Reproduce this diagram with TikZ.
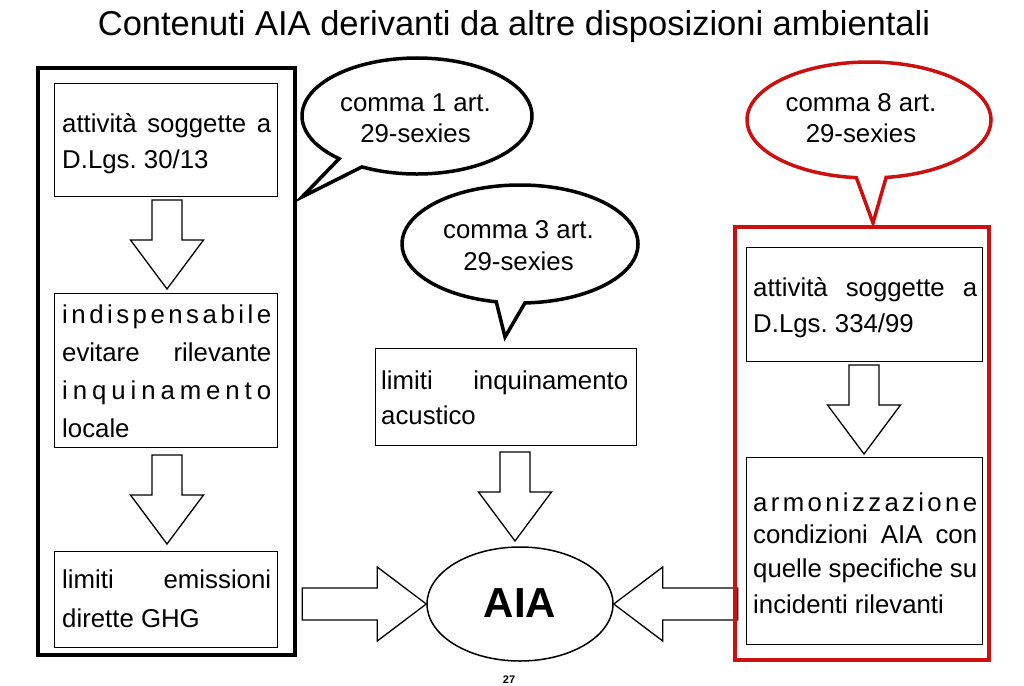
\documentclass[tikz,border=0pt]{standalone}
\usepackage{fontspec}
\setmainfont{Liberation Sans}
\frenchspacing
\usetikzlibrary{shapes.geometric,shapes.callouts,calc}
\definecolor{aiared}{RGB}{204,16,16}
\newcommand\js{\hskip 0.25em plus 1fill\relax}
\tikzset{
  box/.style={draw=black, line width=1.3pt, inner sep=0, fill=white},
  frame/.style={draw, line width=4pt},
  bubble/.style={ellipse callout, draw, line width=3.5pt, inner sep=0, callout pointer arc=14, fill=white},
  txt/.style={inner sep=0, anchor=base west, font=\fontsize{25.8}{31}\selectfont},
  ctxt/.style={inner sep=0, anchor=base, font=\fontsize{25.8}{31}\selectfont},
  barrow/.style={draw, line width=1.3pt, fill=white, line join=miter},
  downblock/.pic={\path[barrow] (-15,0) -- (15,0) -- (15,40) -- (36.5,40) -- (0,89) -- (-36.5,40) -- (-15,40) -- cycle;},
  rightblock/.pic={\path[barrow] (0,0) -- (-49,-37) -- (-49,-16) -- (-124,-16) -- (-124,16) -- (-49,16) -- (-49,37) -- cycle;},
  leftblock/.pic={\path[barrow] (0,0) -- (49,-37) -- (49,-16) -- (124,-16) -- (124,16) -- (49,16) -- (49,37) -- cycle;},
}
\begin{document}
\begin{tikzpicture}[x=1pt,y=-1pt]
\useasboundingbox[fill=white] (0,0) rectangle (1024,685);

% title
\node[anchor=base, inner sep=0, font=\fontsize{34.5}{40}\selectfont] (title) at (514,36) {Contenuti AIA derivanti da altre disposizioni ambientali};

% left column
\node[box, anchor=north west, minimum width=223, minimum height=113] (L1) at (54,83) {};
\node[box, anchor=north west, minimum width=223, minimum height=154] (L2) at (54,293) {};
\node[box, anchor=north west, minimum width=223, minimum height=96] (L3) at (54,551) {};
\pic at (167,200) {downblock};
\pic at (167,455) {downblock};
\draw[frame] (38,68) rectangle (295,655);

\node[txt] (l1a) at (62,132) {\hbox to 209pt{attività\js soggette\js a}};
\node[txt] (l1b) at (62,168) {D.Lgs. 30/13};
\node[txt] (l2a) at (62,323) {\hbox to 209pt{i\hfill n\hfill d\hfill i\hfill s\hfill p\hfill e\hfill n\hfill s\hfill a\hfill b\hfill i\hfill l\hfill e}};
\node[txt] (l2b) at (62,361) {\hbox to 209pt{evitare\js rilevante}};
\node[txt] (l2c) at (62,399) {\hbox to 209pt{i\hfill n\hfill q\hfill u\hfill i\hfill n\hfill a\hfill m\hfill e\hfill n\hfill t\hfill o}};
\node[txt] (l2d) at (62,437) {locale};
\node[txt] (l3a) at (62,588) {\hbox to 209pt{limiti\js emissioni}};
\node[txt] (l3b) at (62,627) {dirette GHG};

% middle column
\node[box, anchor=north west, minimum width=261, minimum height=97] (M) at (375,348) {};
\node[txt] (ma) at (381,389) {\hbox to 247pt{limiti\js inquinamento}};
\node[txt] (mb) at (381,424) {acustico};
\pic at (515,452) {downblock};

% AIA
\node[ellipse, draw, line width=1.5pt, minimum width=186, minimum height=114, inner sep=0] (aia) at (520,604) {};
\node[anchor=base, inner sep=0, font=\bfseries\fontsize{42}{48}\selectfont] (aiat) at (520,617) {AIA};
\pic at (aia.west) {rightblock};
\pic at (aia.east) {leftblock};

% right column
\node[box, anchor=north west, minimum width=236, minimum height=114] (R1) at (746,247) {};
\node[box, anchor=north west, minimum width=236, minimum height=187] (R2) at (746,457) {};
\pic at (864,365) {downblock};
\draw[frame, draw=aiared] (735,227) rectangle (989,660);

\node[txt] (r1a) at (753,296) {\hbox to 224pt{attività\js soggette\js a}};
\node[txt] (r1b) at (753,332) {D.Lgs. 334/99};
\node[txt] (r2a) at (753,511) {\hbox to 224pt{a\hfill r\hfill m\hfill o\hfill n\hfill i\hfill z\hfill z\hfill a\hfill z\hfill i\hfill o\hfill n\hfill e}};
\node[txt] (r2b) at (753,543) {\hbox to 224pt{condizioni\js AIA\js con}};
\node[txt] (r2c) at (753,577) {\hbox to 224pt{quelle\js specifiche\js su}};
\node[txt] (r2d) at (753,613) {incidenti rilevanti};

% callouts
\node[bubble, minimum width=230, minimum height=116, callout absolute pointer={(302,197)}] (c1) at (417,116) {};
\node[ctxt] (c1a) at (415.5,111) {comma 1 art.};
\node[ctxt] (c1b) at (415.5,142) {29-sexies};

\node[bubble, minimum width=236, minimum height=118, callout absolute pointer={(505,337)}] (c3) at (520,244) {};
\node[ctxt] (c3a) at (518.5,238) {comma 3 art.};
\node[ctxt] (c3b) at (518.5,270) {29-sexies};

\node[bubble, draw=aiared, minimum width=244, minimum height=116, callout absolute pointer={(873,223)}] (c8) at (869,120) {};
\node[ctxt] (c8a) at (861,111) {comma 8 art.};
\node[ctxt] (c8b) at (861,142) {29-sexies};

% page number
\node[anchor=base, inner sep=0, font=\bfseries\fontsize{11}{12}\selectfont] (pg) at (509,683) {27};
\end{tikzpicture}
\end{document}
